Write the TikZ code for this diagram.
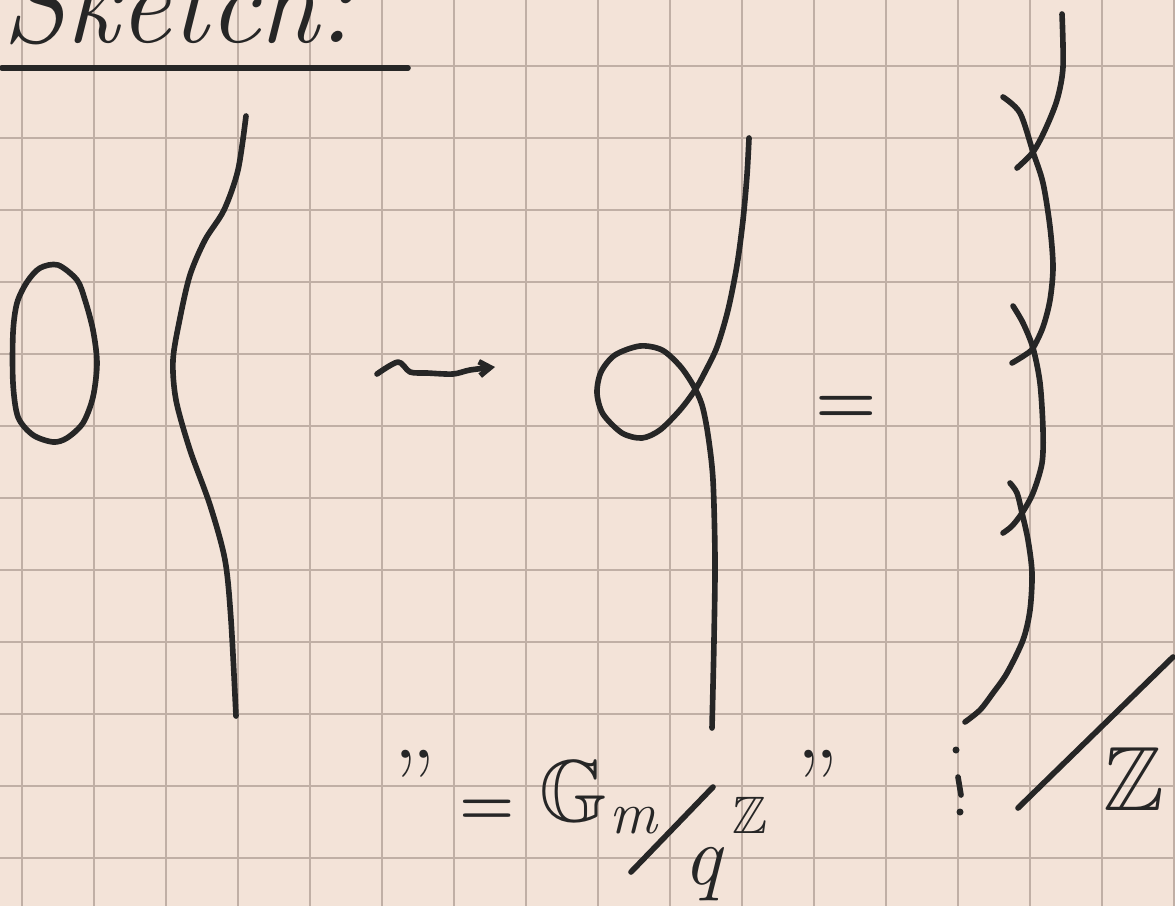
\documentclass[tikz,border=0pt]{standalone}
\usepackage{amssymb}
\usepackage{tikz}
\usetikzlibrary{arrows.meta}
\definecolor{paper}{HTML}{F3E3D8}
\definecolor{gridln}{HTML}{C0AFA5}
\definecolor{ink}{HTML}{262626}

\begin{document}
\begin{tikzpicture}[x=0.02cm,y=-0.02cm,
    pen/.style={draw=ink,line width=3.2pt,line cap=round,line join=round},
    hand/.style={text=ink,inner sep=0pt}]
        \useasboundingbox (0,0) rectangle (1175,906);
        \fill[paper] (0,0) rectangle (1175,906);
        \clip (0,0) rectangle (1175,906);
        \foreach \x in {22,94,...,1174}{
          \draw[gridln,line width=1.1pt] (\x,0) -- (\x,906);
        }
        \foreach \y in {66,138,...,858}{
          \draw[gridln,line width=1.1pt] (0,\y) -- (1175,\y);
        }
        \node[hand,anchor=base west] (title) at (2,42) {\fontsize{66}{66}\selectfont\itshape Sketch:};
        \draw[pen] (2,68) -- (408,68);
        \draw[pen] plot[smooth cycle] coordinates {(58,265) (77,280) (85,300) (93,330) (97,363) (93,397) (83,423) (67,438) (53,442) (33,435) (18,417) (13,383) (13,333) (17,303) (27,282) (40,268)};
        \draw[pen] plot[smooth] coordinates {(246,116) (238,170) (224,210) (205,240) (190,275) (180,318) (173,360) (176,400) (190,450) (210,505) (225,560) (231,620) (236,716)};
        \draw[pen,-{Straight Barb[length=6pt,width=8pt]}] plot[smooth] coordinates {(377,374) (398,362) (410,372) (427,373) (453,374) (470,370) (495,367)};
        \draw[pen] plot[smooth] coordinates {(749,138) (747,175) (743,220) (737,265) (728,310) (717,347) (705,372) (695,390) (680,410) (660,430) (642,438) (622,433) (603,414) (597,393) (601,372) (615,355) (640,346) (662,350) (680,366) (693,385) (702,405) (708,435) (713,480) (715,560) (714,640) (712,728)};
        \node[hand] (eqB) at (846,410) {\fontsize{40}{40}\selectfont\bfseries =};
        \draw[pen] plot[smooth] coordinates {(1062,14) (1063,67) (1057,100) (1045,130) (1033,152) (1017,168)};
        \draw[pen] plot[smooth] coordinates {(1003,97) (1020,113) (1033,152) (1043,183) (1050,227) (1053,267) (1050,300) (1043,327) (1033,348) (1025,355) (1012,363)};
        \draw[pen] plot[smooth] coordinates {(1013,306) (1023,323) (1033,348) (1040,383) (1043,430) (1042,463) (1033,493) (1022,513) (1012,526) (1003,533)};
        \draw[pen] plot[smooth] coordinates {(1010,483) (1017,493) (1022,513) (1028,540) (1032,573) (1030,610) (1023,640) (1007,673) (993,693) (980,710) (965,722)};
        \node[hand,anchor=north] (qtL) at (415,750) {\fontsize{56}{56}\selectfont''};
        \node[hand] (eqA) at (487,812) {\fontsize{36}{36}\selectfont\bfseries =};
        \node[hand] (gG) at (574,791) {\fontsize{50}{50}\selectfont$\mathbb{G}$};
        \node[hand] (gm) at (633,821) {\fontsize{34}{34}\selectfont\itshape m};
        \draw[pen] (631,872) -- (713,787);
        \node[hand,anchor=base] (gq) at (702,884) {\fontsize{48}{48}\selectfont\itshape q};
        \node[hand] (gZ) at (750,815) {\fontsize{30}{30}\selectfont$\mathbb{Z}$};
        \node[hand,anchor=north] (qtR) at (818,750) {\fontsize{56}{56}\selectfont''};
        \fill[ink] (956,750) circle[radius=3.5];
        \draw[pen] (958,777) -- (961,795);
        \fill[ink] (960,812) circle[radius=3.5];
        \draw[pen] (1018,808) -- (1173,657);
        \node[hand] (bigZ) at (1134,779) {\fontsize{52}{52}\selectfont$\mathbb{Z}$};
\end{tikzpicture}
\end{document}
